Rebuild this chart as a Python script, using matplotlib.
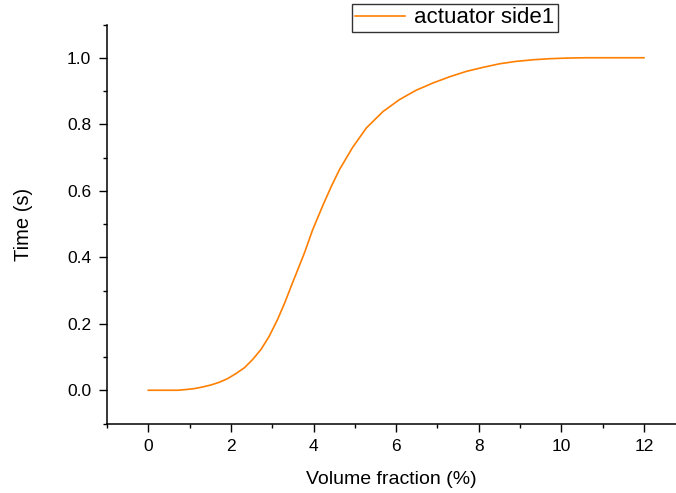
import matplotlib
matplotlib.use("Agg")
import matplotlib.pyplot as plt
from matplotlib.ticker import MultipleLocator

plt.rcParams['font.family'] = ['Liberation Sans', 'DejaVu Sans']

volume_fraction = [0.0, 0.4, 0.71, 0.9, 1.12, 1.32, 1.52, 1.72, 1.92, 2.12, 2.33, 2.53,
                   2.73, 2.93, 3.13, 3.3, 3.46, 3.62, 3.78, 3.98, 4.23, 4.43, 4.63,
                   4.95, 5.28, 5.68, 6.08, 6.48, 6.89, 7.3, 7.70, 8.1, 8.51, 8.9,
                   9.32, 9.7, 10.13, 10.6, 11.0, 11.5, 12.0]
time_s = [0.0, 0.0, 0.0, 0.002, 0.005, 0.010, 0.016, 0.024, 0.035, 0.050, 0.068, 0.093,
          0.123, 0.163, 0.213, 0.262, 0.313, 0.363, 0.413, 0.483, 0.557, 0.613, 0.664,
          0.731, 0.789, 0.838, 0.874, 0.902, 0.924, 0.943, 0.959, 0.971, 0.982, 0.989,
          0.994, 0.997, 0.999, 1.0, 1.0, 1.0, 1.0]
series_label = "actuator side1"
x_ticks = [0, 2, 4, 6, 8, 10, 12]
y_ticks = [0.0, 0.2, 0.4, 0.6, 0.8, 1.0]

fig = plt.figure(figsize=(6.76, 4.93), dpi=100)
ax = fig.add_axes([107/676, 1 - 423.5/493, 1 - 107/676, (423.5 - 24.5)/493])
ax.plot(volume_fraction, time_s, color='#FF7F00', lw=1.2, label=series_label,
        solid_joinstyle='round')

ax.set_xlim(-1, (676 - 149) / 41.25)
ax.set_ylim(-0.1, 1.1)
ax.set_xticks(x_ticks)
ax.set_yticks(y_ticks)
ax.set_yticklabels([f"{v:.1f}" for v in y_ticks])
ax.xaxis.set_minor_locator(MultipleLocator(1))
ax.yaxis.set_minor_locator(MultipleLocator(0.1))
for s in ['top', 'right']:
    ax.spines[s].set_visible(False)
for s in ['left', 'bottom']:
    ax.spines[s].set_linewidth(1.1)
ax.tick_params(which='major', direction='out', length=5.5, width=1.0, labelsize=12.5, pad=6)
ax.tick_params(which='minor', direction='out', length=3, width=1.0)

ax.set_xlabel("Volume fraction (%)", fontsize=14, labelpad=12)
ax.set_ylabel("Time (s)", fontsize=14.5, labelpad=24)

leg = ax.legend(loc='upper left', bbox_to_anchor=(352/676, 1 - 4/493), bbox_transform=fig.transFigure,
                fontsize=16, frameon=True, fancybox=False, edgecolor='black',
                borderpad=0.15, handlelength=2.25, handletextpad=0.4, borderaxespad=0)
leg.get_frame().set_linewidth(1.0)

fig.savefig("out.png", dpi=100)
